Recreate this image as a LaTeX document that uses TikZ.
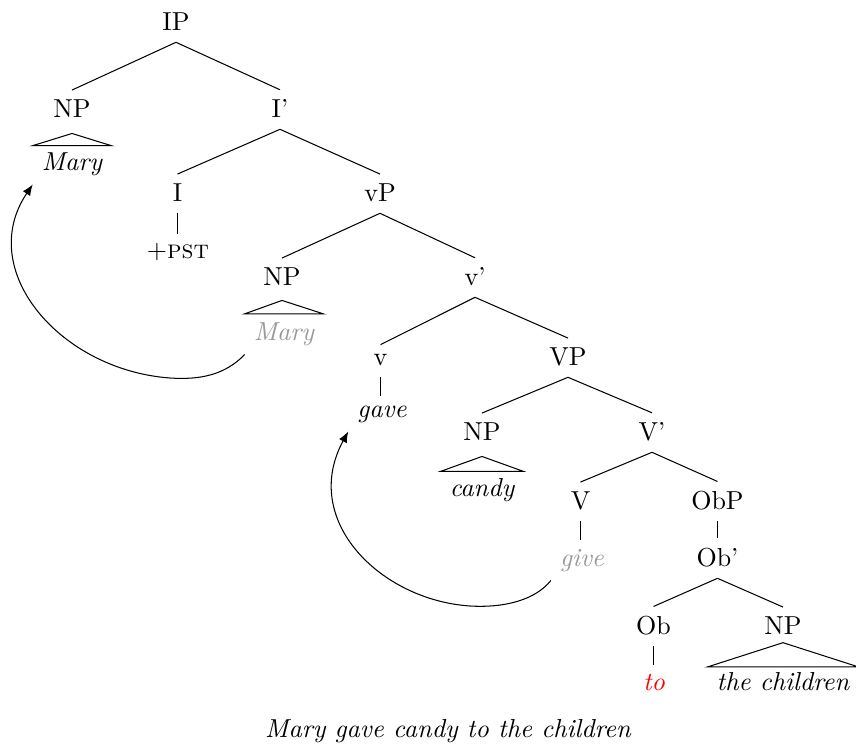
\documentclass[tikz,border=0pt]{standalone}
\usetikzlibrary{arrows.meta}
\definecolor{leafgray}{gray}{0.6}
\begin{document}
\begin{tikzpicture}[x=0.3846pt,y=-0.3846pt,
  cat/.style={anchor=base, text depth=1.2pt},
  leaf/.style={anchor=base, font=\itshape},
  edge/.style={line width=0.4pt},
  move/.style={-{Latex[length=4.2pt,width=3.4pt]}, line width=0.4pt}]
\useasboundingbox (0,0) rectangle (856,746);
% categories
\node[cat] (ip)    at (176,30)  {IP};
\node[cat] (np1)   at (72,117)  {NP};
\node[cat] (ibar)  at (280,117) {I'};
\node[cat] (i)     at (177.5,201) {I};
\node[cat] (vp)    at (380,201) {vP};
\node[cat] (np2)   at (282,285) {NP};
\node[cat] (vbar)  at (475,285) {v'};
\node[cat] (vv)    at (380.5,365) {v};
\node[cat] (bigvp) at (568,365) {VP};
\node[cat] (np3)   at (482,440) {NP};
\node[cat] (bigvbar) at (652,440) {V'};
\node[cat] (bigv)  at (580.5,509) {V};
\node[cat] (obp)   at (717.5,509) {ObP};
\node[cat] (obbar) at (717.5,566) {Ob'};
\node[cat] (ob)    at (653.5,634) {Ob};
\node[cat] (np4)   at (783,634) {NP};
% leaves
\node[leaf] (mary1) at (72,170) {Mary};
\node[anchor=base] (pst) at (178,258) {$+$\textsc{pst}};
\node[leaf, text=leafgray] (mary2) at (284,340) {Mary};
\node[leaf] (gave) at (382,417) {gave};
\node[leaf] (candy) at (482,496) {candy};
\node[leaf, text=leafgray] (give) at (582,566) {give};
\node[leaf, text=red] (to) at (654,690) {to};
\node[leaf] (children) at (783,690) {the children};
\node[anchor=base, font=\itshape] (cap) at (448,737) {Mary gave candy to the children};
% edges
\draw[edge] (ip.south) -- (np1.north);
\draw[edge] (ip.south) -- (ibar.north);
\draw[edge] (ibar.south) -- (i.north);
\draw[edge] (ibar.south) -- (vp.north);
\draw[edge] (i.south) -- (i.south |- pst.north);
\draw[edge] (vp.south) -- (np2.north);
\draw[edge] (vp.south) -- (vbar.north);
\draw[edge] (vbar.south) -- (vv.north);
\draw[edge] (vbar.south) -- (bigvp.north);
\draw[edge] (vv.south) -- (vv.south |- gave.north);
\draw[edge] (bigvp.south) -- (np3.north);
\draw[edge] (bigvp.south) -- (bigvbar.north);
\draw[edge] (bigvbar.south) -- (bigv.north);
\draw[edge] (bigvbar.south) -- (obp.north);
\draw[edge] (bigv.south) -- (bigv.south |- give.north);
\draw[edge] (obp.south) -- (obbar.north);
\draw[edge] (obbar.south) -- (ob.north);
\draw[edge] (obbar.south) -- (np4.north);
\draw[edge] (ob.south) -- (ob.south |- to.north);
% roofs
\draw[edge] ([yshift=-1.6pt]np1.south) -- ([yshift=-1pt]mary1.north west) -- ([yshift=-1pt]mary1.north east) -- cycle;
\draw[edge] ([yshift=-1.2pt]np2.south) -- ([yshift=-0.3pt]mary2.north west) -- ([yshift=-0.3pt]mary2.north east) -- cycle;
\draw[edge] ([yshift=-1.6pt]np3.south) -- ([yshift=-1pt]candy.north west) -- ([yshift=-1pt]candy.north east) -- cycle;
\draw[edge] ([yshift=1.4pt]np4.south) -- ([yshift=-1.6pt]children.north west) -- ([yshift=-1.6pt]children.north east) -- cycle;
% movement arrows
\draw[move] (mary2.south west) .. controls (225,375) and (200,380) .. (170,378)
   .. controls (60,370) and (-25,270) .. (mary1.south west);
\draw[move] (give.south west) .. controls (535,600) and (505,608) .. (470,606)
   .. controls (380,600) and (300,520) .. (gave.south west);
\end{tikzpicture}
\end{document}
